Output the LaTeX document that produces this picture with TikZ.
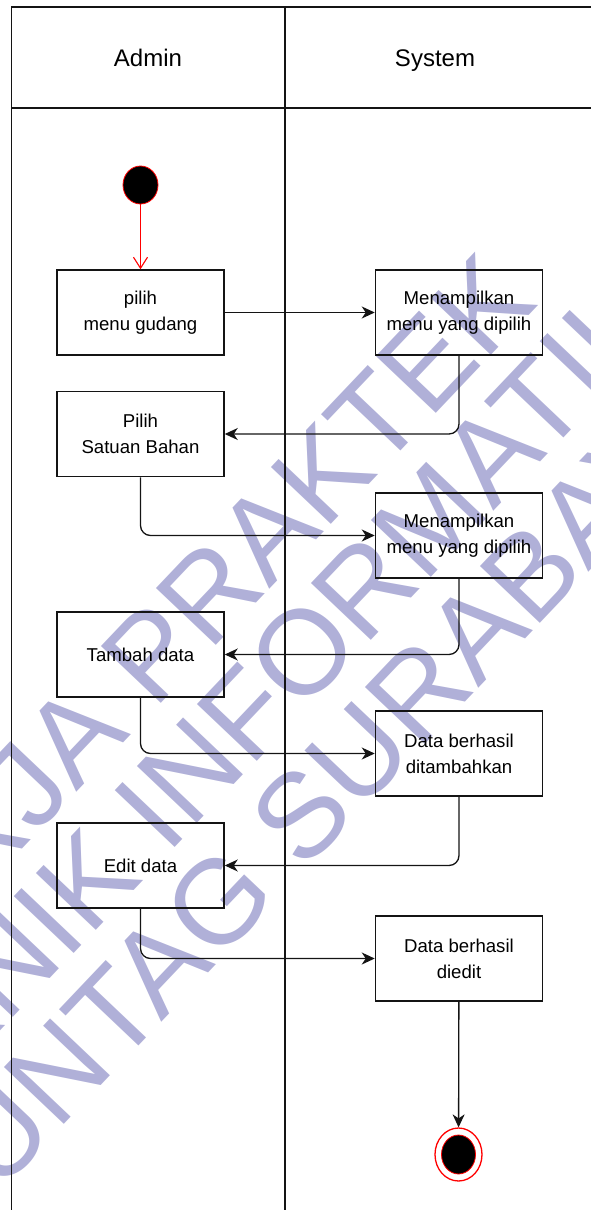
\documentclass[tikz,border=0pt]{standalone}
\usepackage{fontspec}
\setmainfont{Liberation Sans}
\usetikzlibrary{arrows.meta,shapes.geometric}

\definecolor{wm}{RGB}{176,176,216}
\definecolor{ln}{RGB}{20,20,20}
\definecolor{rd}{RGB}{255,0,0}

\begin{document}
\begin{tikzpicture}[x=1pt,y=-1pt,
  wmtext/.style={text=wm, rotate=46.5, inner sep=0pt, anchor=base,
    font=\fontsize{120}{120}\selectfont},
  lane/.style={draw=ln, line width=1.3pt},
  lanehead/.style={anchor=base, font=\fontsize{24}{24}\selectfont},
  act/.style={draw=ln, line width=1.5pt, minimum width=167pt, minimum height=85pt,
    align=center, inner sep=0pt, font=\fontsize{18.6}{26}\selectfont},
  flow/.style={draw=ln, line width=1.3pt, rounded corners=10pt,
    -{Stealth[length=13pt,width=12pt,inset=4pt]}},
  startflow/.style={draw=rd, line width=1.1pt,
    -{Straight Barb[length=11pt,width=14pt]}},
  initial/.style={ellipse, fill=black, draw=rd, line width=0.8pt,
    minimum width=35pt, minimum height=38pt, inner sep=0pt},
  finalring/.style={ellipse, fill=white, draw=rd, line width=1.3pt,
    minimum width=47pt, minimum height=53pt, inner sep=0pt},
  finaldot/.style={ellipse, fill=black, draw=rd, line width=0.8pt,
    minimum width=34pt, minimum height=39pt, inner sep=0pt}
]
\useasboundingbox (0,0) rectangle (590,1210);

% watermark lettering
\begin{scope}
  \clip (0,0) rectangle (590,1210);
  \node[wmtext] (w1) at (202.6,659.4) {KERJA PRAKTEK};
  \node[wmtext] (w2) at (286,730.2) {TEKNIK INFORMATIKA};
  \node[wmtext] (w3) at (369.8,802.8) {UNTAG SURABAYA};
\end{scope}

% swimlanes
\draw[lane] (11.5,1215) -- (11.5,7) -- (595,7);
\draw[lane] (11.5,108) -- (595,108);
\draw[lane] (285,7) -- (285,1215);
\node[lanehead] (hadmin) at (148,66) {Admin};
\node[lanehead] (hsystem) at (435,66) {System};

% activities
\node[initial] (start) at (140.5,185) {};
\node[act] (b1) at (140.5,312.5) {pilih\\menu gudang};
\node[act] (m1) at (459,312.5) {Menampilkan\\menu yang dipilih};
\node[act] (b2) at (140.5,434) {Pilih\\Satuan Bahan};
\node[act] (m2) at (459,535.5) {Menampilkan\\menu yang dipilih};
\node[act] (b3) at (140.5,654.5) {Tambah data};
\node[act] (m3) at (459,753.5) {Data berhasil\\ditambahkan};
\node[act] (b4) at (140.5,865.5) {Edit data};
\node[act] (m4) at (459,958.5) {Data berhasil\\diedit};
\node[finalring] (final) at (458.5,1154.5) {};
\node[finaldot] (finalin) at (458.5,1154.5) {};

% control flow
\draw[startflow] (start) -- (b1);
\draw[flow] (b1) -- (m1);
\draw[flow] (m1.south) |- (b2.east);
\draw[flow] (b2.south) |- (m2.west);
\draw[flow] (m2.south) |- (b3.east);
\draw[flow] (b3.south) |- (m3.west);
\draw[flow] (m3.south) |- (b4.east);
\draw[flow] (b4.south) |- (m4.west);
\draw[flow] (m4) -- (final);
\end{tikzpicture}
\end{document}
